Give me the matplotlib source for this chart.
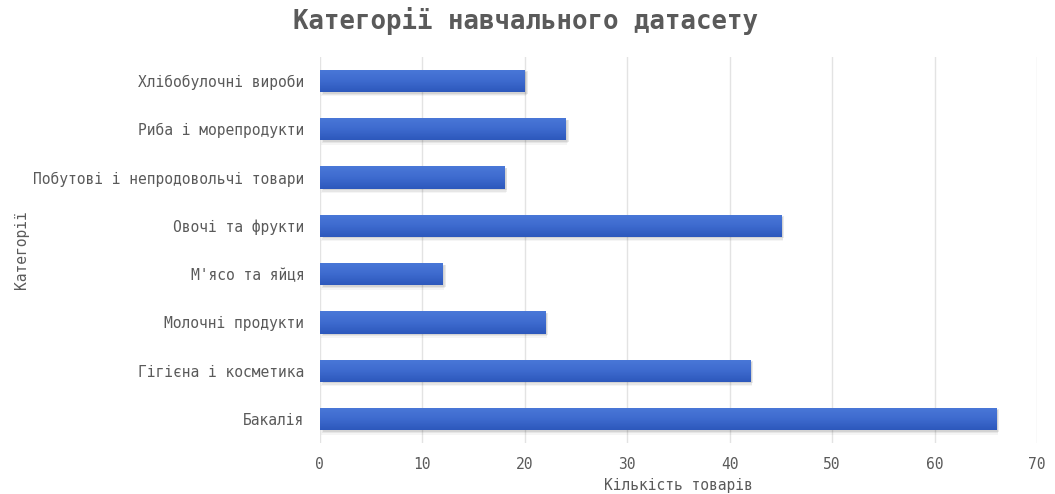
import numpy as np
import matplotlib.pyplot as plt
import matplotlib.transforms as mtransforms

categories = ['Бакалія', 'Гігієна і косметика', 'Молочні продукти', "М'ясо та яйця",
              'Овочі та фрукти', 'Побутові і непродовольчі товари',
              'Риба і морепродукти', 'Хлібобулочні вироби']
counts = [66, 42, 22, 12, 45, 18, 24, 20]

plt.rcParams['font.family'] = ['DejaVu Sans Mono']
txt = '#5a5a5a'

fig = plt.figure(figsize=(10.55, 4.94), dpi=100)
ax = fig.add_axes([0.303, 0.103, 0.680, 0.782])

ypos = np.arange(len(categories))
h = 0.46

# soft drop shadow under each bar
for k, a in enumerate([0.04, 0.06, 0.08]):
    off = mtransforms.offset_copy(ax.transData, fig=fig, x=1.2 + k * 0.5, y=-(2.5 - k * 0.7), units='points')
    ax.barh(ypos, counts, height=h + 0.04 - k * 0.02, color='black', alpha=a,
            transform=off, zorder=2, linewidth=0)

bars = ax.barh(ypos, counts, height=h, color='#3a66c8', zorder=3, linewidth=0)

# vertical gradient fill, lighter at the top edge
grad = np.linspace(0, 1, 64).reshape(-1, 1)
cmap = plt.matplotlib.colors.LinearSegmentedColormap.from_list('g', ['#2d58bc', '#3e6bcf', '#4a78d8'])
for b in bars:
    x0, y0 = b.get_x(), b.get_y()
    im = ax.imshow(grad, cmap=cmap, aspect='auto', origin='lower',
                   extent=[x0, x0 + b.get_width(), y0, y0 + b.get_height()], zorder=4)
    im.set_clip_path(b)

ax.set_xlim(0, 70)
ax.set_ylim(-0.5, len(categories) - 0.5)
ax.set_xticks(range(0, 71, 10))
ax.set_yticks(ypos)
ax.set_yticklabels(categories)
ax.grid(axis='x', color='#e3e3e3', linewidth=1, zorder=0)
ax.set_axisbelow(True)
for s in ax.spines.values():
    s.set_visible(False)
ax.tick_params(axis='both', length=0, labelsize=10.5, colors=txt)
ax.tick_params(axis='y', pad=11)
ax.tick_params(axis='x', pad=10)

ax.set_xlabel('Кількість товарів', fontsize=10.5, color=txt, labelpad=4)
ax.set_ylabel('Категорії', fontsize=10.5, color=txt)
ax.yaxis.set_label_coords(-0.405, 0.5)
fig.suptitle('Категорії навчального датасету', fontsize=18.5, fontweight='bold',
             color=txt, x=0.498, y=0.985)

fig.savefig('out.png', dpi=100)
